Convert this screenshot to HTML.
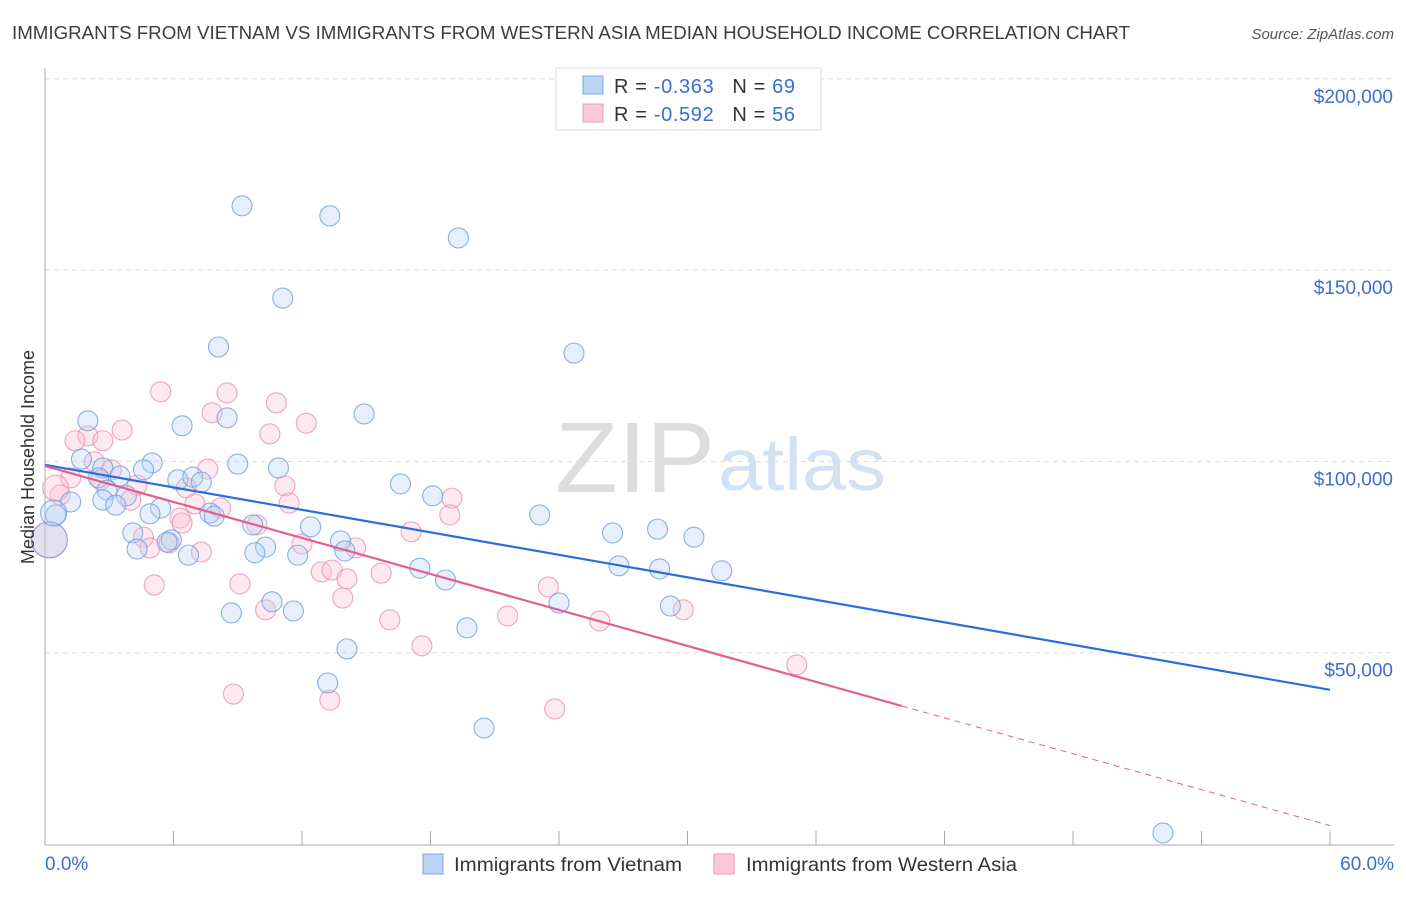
<!DOCTYPE html>
<html><head><meta charset="utf-8"><style>
body{margin:0;background:#fff;font-family:"Liberation Sans",sans-serif}
svg text{font-family:"Liberation Sans",sans-serif}
</style></head><body>
<svg id="chart" width="1406" height="892">
<text x="12" y="39" font-size="18" fill="#3c3c3c" textLength="1118" lengthAdjust="spacingAndGlyphs">IMMIGRANTS FROM VIETNAM VS IMMIGRANTS FROM WESTERN ASIA MEDIAN HOUSEHOLD INCOME CORRELATION CHART</text>
<text x="1394" y="39" font-size="15" fill="#555" text-anchor="end" font-style="italic">Source: ZipAtlas.com</text>
<text x="555" y="492" font-size="100" fill="#ddd" textLength="160" lengthAdjust="spacingAndGlyphs" font-family="Liberation Serif">ZIP</text>
<text x="718" y="490" font-size="74" fill="#d3e2f3" textLength="168" lengthAdjust="spacingAndGlyphs">atlas</text>
<g id="grid"></g><g id="axes"></g><g id="pts"></g><g id="lines"></g>
<text transform="translate(34,457) rotate(-90)" font-size="18" fill="#333" text-anchor="middle">Median Household Income</text>
<g>
<rect x="556" y="68" width="265" height="62" fill="#fff" stroke="#ddd"/>
<rect x="583" y="76" width="20" height="18" fill="#bcd4f5" stroke="#7aa5e6"/>
<rect x="583" y="104" width="20" height="18" fill="#fcc9d8" stroke="#ee9ab5"/>
<text x="614" y="93" font-size="20" fill="#333" textLength="181" lengthAdjust="spacing">R = <tspan fill="#3a6fd0">-0.363</tspan><tspan dx="18">N = </tspan><tspan fill="#3a6fd0">69</tspan></text>
<text x="614" y="121" font-size="20" fill="#333" textLength="181" lengthAdjust="spacing">R = <tspan fill="#3a6fd0">-0.592</tspan><tspan dx="18">N = </tspan><tspan fill="#3a6fd0">56</tspan></text>
</g>
<g>
<rect x="423" y="854" width="20" height="20" fill="#bcd4f5" stroke="#7aa5e6"/>
<text x="454" y="871" font-size="19" fill="#333" textLength="228" lengthAdjust="spacingAndGlyphs">Immigrants from Vietnam</text>
<rect x="714" y="854" width="20" height="20" fill="#fcc9d8" stroke="#ee9ab5"/>
<text x="746" y="871" font-size="19" fill="#333" textLength="271" lengthAdjust="spacingAndGlyphs">Immigrants from Western Asia</text>
</g>
</svg>
<script>
const yTicks=[50000,100000,150000,200000];
const yTickLabels=["$50,000","$100,000","$150,000","$200,000"];
const xEdgeLabels=["0.0%","60.0%"];
const vietX=[9.2,13.3,19.3,11.1,8.1,24.7,2.0,6.4,8.5,14.9,1.7,5.0,9.0,10.9,4.6,2.7,3.5,2.5,6.2,6.9,7.3,16.6,2.9,3.8,18.1,1.2,2.7,3.3,5.4,4.9,7.7,7.9,23.1,0.5,9.7,12.4,28.6,26.5,30.3,4.1,5.9,5.7,13.8,4.3,10.3,14.0,6.7,9.8,11.8,17.5,26.8,28.7,31.6,18.7,10.6,24.0,29.2,8.7,11.6,19.7,14.1,13.2,20.5,52.2,0.2,0.4];
const vietY=[166.8,164.2,158.4,142.7,129.9,128.3,110.6,109.3,111.4,112.4,100.6,99.6,99.3,98.3,97.8,98.3,96.2,95.7,95.2,95.9,94.6,94.1,92.5,91.0,91.0,89.4,89.9,88.6,87.8,86.3,86.5,85.7,86.0,86.0,83.4,82.9,82.3,81.3,80.2,81.3,79.5,78.9,79.2,77.1,77.6,76.6,75.5,76.1,75.5,72.1,72.7,71.9,71.4,69.0,63.3,63.0,62.2,60.4,60.9,56.5,51.0,42.1,30.3,2.9,79.5,86.5];
const vietR=[10,10,10,10,10,10,10,10,10,10,10,10,10,10,10,10,10,10,10,10,10,10,10,10,10,10,10,10,10,10,10,10,10,10,10,10,10,10,10,10,10,10,10,10,10,10,10,10,10,10,10,10,10,10,10,10,10,10,10,10,10,10,10,10,18,13];
const westX=[5.4,8.5,10.8,7.8,12.2,3.6,2.0,10.5,1.4,2.7,2.3,7.6,3.1,1.2,2.6,4.3,6.6,11.2,0.7,19.0,4.0,7.0,11.4,8.2,18.9,6.3,6.4,9.9,17.1,4.6,5.8,12.0,4.9,7.3,14.5,12.9,13.4,15.7,14.1,5.1,9.1,23.5,13.9,10.3,21.6,16.1,25.9,29.8,17.6,35.1,8.8,13.3,23.8,0.5,0.2];
const westY=[118.2,117.9,115.3,112.7,110.0,108.2,106.7,107.2,105.4,105.4,99.9,98.0,97.8,95.7,95.2,93.8,93.1,93.6,91.2,90.4,89.9,88.9,89.1,87.8,86.0,85.2,83.9,83.4,81.6,80.2,78.7,78.4,77.4,76.3,77.4,71.1,71.6,70.8,69.3,67.7,68.0,67.2,64.3,61.2,59.6,58.6,58.3,61.2,51.8,46.8,39.2,37.6,35.3,93.0,79.5];
const westR=[10,10,10,10,10,10,10,10,10,10,10,10,10,10,10,10,10,10,10,10,10,10,10,10,10,10,10,10,10,10,10,10,10,10,10,10,10,10,10,10,10,10,10,10,10,10,10,10,10,10,10,10,10,13,18];
const vietTrend=[[0,99.1],[60,40.3]];
const westTrend=[[0,98.8],[40,36.1],[60,4.8]];
const X=v=>45+v/60*1285;
const Y=v=>844-v/50000*191.3;
const NS="http://www.w3.org/2000/svg";
function mk(p,tag,a){const e=document.createElementNS(NS,tag);for(const k in a)e.setAttribute(k,a[k]);p.appendChild(e);return e;}
const grid=document.getElementById('grid'),axes=document.getElementById('axes'),pts=document.getElementById('pts'),lines=document.getElementById('lines');
const t=mk(grid,'line',{x1:45,x2:1394,y1:Y(200000),y2:Y(200000),stroke:'#ddd','stroke-dasharray':'5,4'});


yTicks.forEach((v,i)=>{
 const g=mk(grid,'line',{x1:45,x2:1394,y1:Y(v),y2:Y(v),stroke:'#ddd','stroke-dasharray':'5,4'});
 
 
 const tx=mk(axes,'text',{x:1393,y:Y(v)+24,'font-size':19,fill:'#3a6fd0','text-anchor':'end'});
 tx.textContent=yTickLabels[i];
 
 
});
const ya=mk(axes,'line',{x1:45,x2:45,y1:68,y2:845,stroke:'#aaa'});


const xa=mk(axes,'line',{x1:45,x2:1394,y1:845,y2:845,stroke:'#aaa'});


for(let i=0;i<=10;i++){const tk=mk(axes,'line',{x1:X(i*6),x2:X(i*6),y1:831,y2:845,stroke:'#aaa'});
 
 }
const l0=mk(axes,'text',{x:45,y:870,'font-size':19,fill:'#3a6fd0'});l0.textContent=xEdgeLabels[0];


const l1=mk(axes,'text',{x:1394,y:870,'font-size':19,fill:'#3a6fd0','text-anchor':'end'});l1.textContent=xEdgeLabels[1];


function dots(xs,ys,rs,fill,stroke,name){xs.forEach((x,i)=>{const c=mk(pts,'circle',{cx:X(x),cy:Y(ys[i]*1000),r:rs[i],fill:fill,'fill-opacity':0.35,stroke:stroke,'stroke-opacity':0.8,'stroke-width':1.1});
 
 });}
dots(westX,westY,westR,'#f8bfd0','#ec8fae','western-asia-point');
dots(vietX,vietY,vietR,'#b8d2f4','#6d9de0','vietnam-point');
const bl=mk(lines,'line',{x1:X(vietTrend[0][0]),y1:Y(vietTrend[0][1]*1000),x2:X(vietTrend[1][0]),y2:Y(vietTrend[1][1]*1000),stroke:'#2a6fd6','stroke-width':2.2});


const pl=mk(lines,'line',{x1:X(westTrend[0][0]),y1:Y(westTrend[0][1]*1000),x2:X(westTrend[1][0]),y2:Y(westTrend[1][1]*1000),stroke:'#e3608e','stroke-width':2.2});


const pd=mk(lines,'line',{x1:X(westTrend[1][0]),y1:Y(westTrend[1][1]*1000),x2:X(westTrend[2][0]),y2:Y(westTrend[2][1]*1000),stroke:'#e3608e','stroke-width':1,'stroke-dasharray':'6,5'});


</script>
</body></html>
